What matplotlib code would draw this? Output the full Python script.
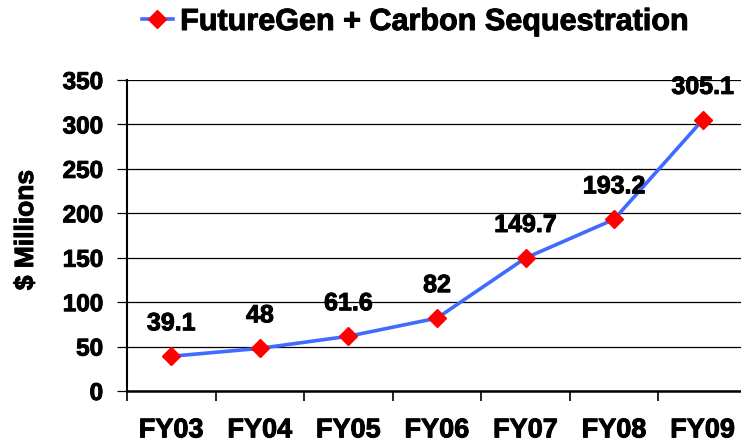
import matplotlib
matplotlib.use("Agg")
import matplotlib.pyplot as plt
import matplotlib.patheffects as pe
import numpy as np

categories = ["FY03", "FY04", "FY05", "FY06", "FY07", "FY08", "FY09"]
values = [39.1, 48, 61.6, 82, 149.7, 193.2, 305.1]
labels = ["39.1", "48", "61.6", "82", "149.7", "193.2", "305.1"]
series_name = "FutureGen + Carbon Sequestration"
yticks = [0, 50, 100, 150, 200, 250, 300, 350]

plt.rcParams['font.family'] = ['Liberation Sans', 'DejaVu Sans']
plt.rcParams['font.weight'] = 'bold'

W, H = 741, 445
fig = plt.figure(figsize=(W / 100, H / 100), dpi=100)
ax = fig.add_axes([127 / W, 1 - 391 / H, (747 - 127) / W, (391 - 80) / H])

heavy = [pe.withStroke(linewidth=0.7, foreground='black')]

x = np.arange(len(categories))
line, = ax.plot(x, values, color='#3F6BFF', lw=2.6, marker='D', markersize=9.5,
                markerfacecolor='#FF0000', markeredgecolor='#FF0000',
                label=series_name, zorder=3, clip_on=False)

for xi, v, lab in zip(x, values, labels):
    ax.annotate(lab, (xi, v), xytext=(0, 33), textcoords='offset pixels',
                ha='center', va='center', fontsize=18, fontweight='bold',
                annotation_clip=False, path_effects=heavy)

ax.set_xlim(-0.5, len(categories) - 0.5)
ax.set_ylim(0, 350)
ax.set_yticks(yticks)
ax.set_yticklabels([str(t) for t in yticks])
ax.yaxis.grid(True, color='#000000', lw=0.9)
ax.set_axisbelow(True)

ax.set_xticks(x)
ax.set_xticklabels(categories)
ax.set_xticks(np.arange(len(categories) + 1) - 0.5, minor=True)
ax.tick_params(axis='x', which='major', length=0, pad=19, labelsize=19.5)
ax.tick_params(axis='x', which='minor', length=7.2, width=1.2, direction='out')
ax.tick_params(axis='y', length=7.2, width=0.9, pad=10, labelsize=17.5)
for t in ax.get_xticklabels() + ax.get_yticklabels():
    t.set_path_effects(heavy)

for s in ['top', 'right']:
    ax.spines[s].set_visible(False)
ax.spines['left'].set_linewidth(1.5)
ax.spines['bottom'].set_linewidth(1.8)

fig.text(26 / W, 1 - 230 / H, "$ Millions", rotation=90, ha='center', va='center',
         fontsize=19, fontweight='bold', path_effects=heavy)

leg = fig.legend(handles=[line], loc='center', bbox_to_anchor=(415 / W, 1 - 22 / H),
                 frameon=False, handlelength=1.0, handletextpad=0.25,
                 prop={'weight': 'bold', 'size': 22})
for t in leg.get_texts():
    t.set_path_effects(heavy)

fig.savefig("out.png", dpi=100)
